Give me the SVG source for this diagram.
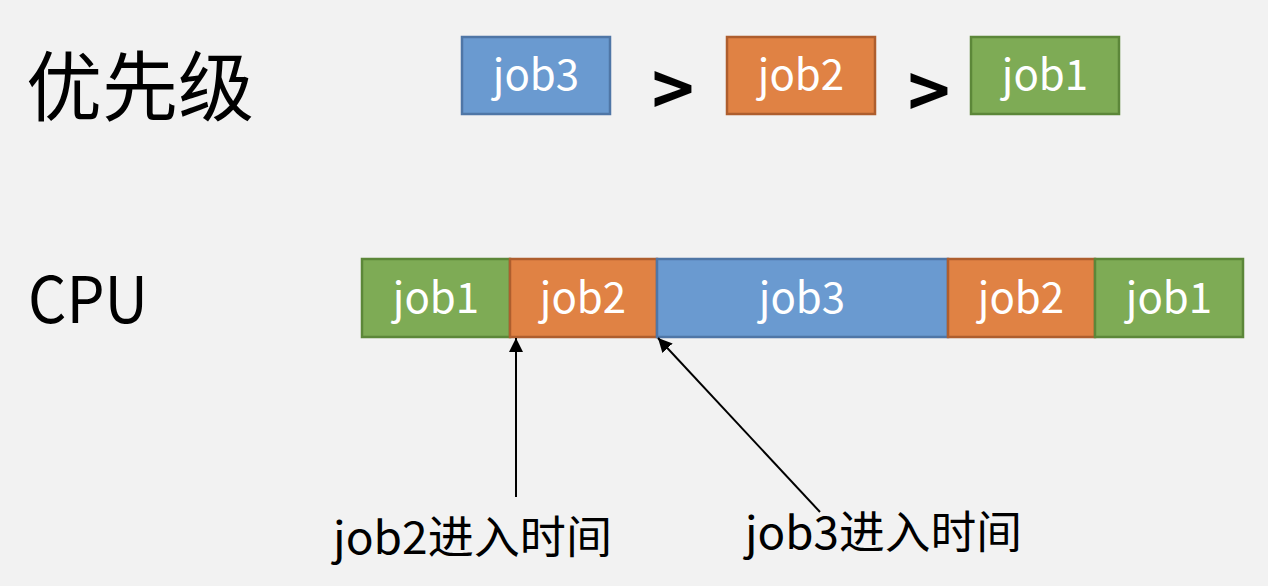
<svg xmlns="http://www.w3.org/2000/svg" width="1268" height="586" viewBox="0 0 1268 586">
<defs>
<style>
.t{font-family:"Noto Sans CJK SC","Noto Sans",sans-serif;}
.lbl{font-family:"Noto Sans CJK SC","Noto Sans",sans-serif;fill:#fff;font-size:42px;text-anchor:middle;}
.gt{font-family:"Noto Sans CJK SC","Noto Sans",sans-serif;font-size:72px;font-weight:bold;text-anchor:middle;}
.blue{fill:#6A9AD0;stroke:#4F76A6;stroke-width:2.5;}
.orange{fill:#E08244;stroke:#AE5E2E;stroke-width:2.5;}
.green{fill:#7EAB55;stroke:#5C8739;stroke-width:2.5;}
.conn{stroke:#000;stroke-width:2;fill:none;marker-end:url(#ah);}
</style>
<marker id="ah" viewBox="0 0 10 10" refX="10" refY="5" markerWidth="7" markerHeight="7" orient="auto" markerUnits="strokeWidth">
<path d="M0,0 L10,5 L0,10 z" fill="#000"/>
</marker>
</defs>
<rect width="1268" height="586" fill="#F2F2F2"/>
<g id="title-priority"><text class="t" x="26" y="115" font-size="76">优先级</text></g>
<g id="title-cpu"><text class="t" x="28" y="323" font-size="64" textLength="120" lengthAdjust="spacingAndGlyphs">CPU</text></g>
<g id="prio-job3"><rect class="blue" x="462" y="37" width="148" height="77"/><text class="lbl" x="536" y="90">job3</text></g>
<g id="gt1"><text class="gt" x="673" y="116">&gt;</text></g>
<g id="prio-job2"><rect class="orange" x="727" y="37" width="148" height="77"/><text class="lbl" x="801" y="90">job2</text></g>
<g id="gt2"><text class="gt" x="929" y="118">&gt;</text></g>
<g id="prio-job1"><rect class="green" x="971" y="37" width="148" height="77"/><text class="lbl" x="1045" y="90">job1</text></g>
<g id="cpu-job1a"><rect class="green" x="362" y="259" width="148" height="78"/><text class="lbl" x="436" y="313">job1</text></g>
<g id="cpu-job2a"><rect class="orange" x="510" y="259" width="147" height="78"/><text class="lbl" x="583" y="313">job2</text></g>
<g id="cpu-job3"><rect class="blue" x="657" y="259" width="291" height="78"/><text class="lbl" x="802" y="313">job3</text></g>
<g id="cpu-job2b"><rect class="orange" x="948" y="259" width="147" height="78"/><text class="lbl" x="1021" y="313">job2</text></g>
<g id="cpu-job1b"><rect class="green" x="1095" y="259" width="148" height="78"/><text class="lbl" x="1169" y="313">job1</text></g>
<g id="connectors">
<line class="conn" x1="516" y1="497" x2="516" y2="338"/>
<line class="conn" x1="820" y1="512" x2="658" y2="338"/>
</g>
<g id="label-job2"><text class="t" x="333" y="554" font-size="45" textLength="279" lengthAdjust="spacingAndGlyphs">job2进入时间</text></g>
<g id="label-job3"><text class="t" x="745" y="549" font-size="45" textLength="277" lengthAdjust="spacingAndGlyphs">job3进入时间</text></g>
</svg>
